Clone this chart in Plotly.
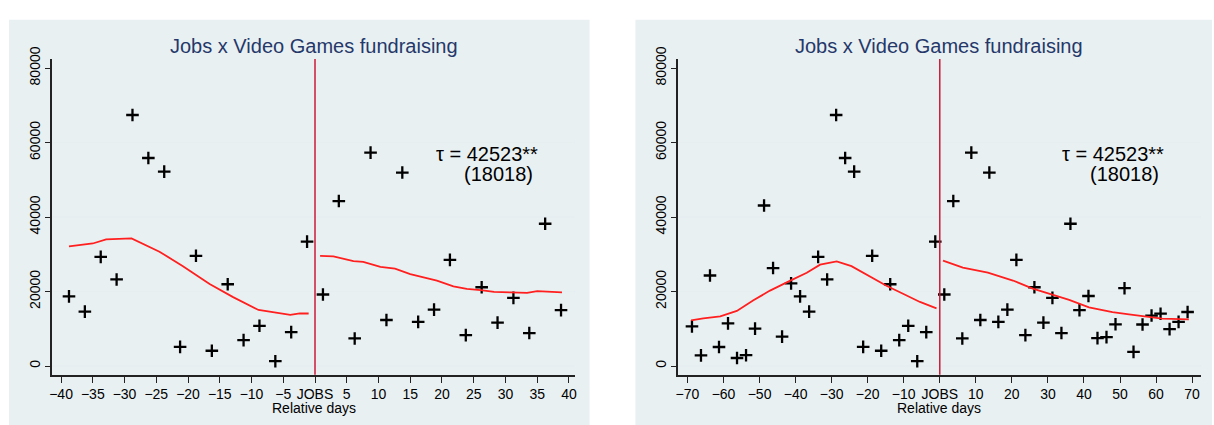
import plotly.graph_objects as go

# ---------------- data ----------------
days = [-68.75, -66.25, -63.75, -61.25, -58.75, -56.25, -53.75, -51.25, -48.75, -46.25,
        -43.75, -41.25, -38.75, -36.25, -33.75, -31.25, -28.75, -26.25, -23.75, -21.25,
        -18.75, -16.25, -13.75, -11.25, -8.75, -6.25, -3.75, -1.25,
        1.25, 3.75, 6.25, 8.75, 11.25, 13.75, 16.25, 18.75, 21.25, 23.75,
        26.25, 28.75, 31.25, 33.75, 36.25, 38.75, 41.25, 43.75, 46.25, 48.75,
        51.25, 53.75, 56.25, 58.75, 61.25, 63.75, 66.25, 68.75]
amount = [10650, 2850, 24300, 5100, 11450, 2150, 2900, 10050, 43100, 26300,
          7900, 22200, 18700, 14600, 29300, 23250, 67400, 55850, 52200, 5150,
          29600, 4100, 21950, 6950, 10800, 1300, 9100, 33400,
          19200, 44300, 7400, 57300, 12350, 51950, 11850, 15150, 28500, 8300,
          21150, 11650, 18300, 8850, 38200, 15000, 18800, 7500, 7750, 11200,
          20900, 3800, 11150, 13550, 14050, 9900, 11850, 14500]

# fitted (local) lines, window +-40 days
fit40_pre_x = [-38.75, -35.0, -32.9, -28.9, -24.5, -20.8, -16.6, -12.9, -8.9, -6.05, -3.9, -2.4, -1.0]
fit40_pre_y = [32100, 32900, 34000, 34250, 30700, 26800, 22000, 18500, 15050, 14200, 13750, 14150, 14100]
fit40_post_x = [0.8, 2.9, 6.05, 7.6, 10.3, 12.6, 15.0, 19.2, 21.8, 23.9, 26.1, 28.2, 30.8, 33.4, 35.0, 37.1, 38.9]
fit40_post_y = [29600, 29450, 28150, 27950, 26600, 26150, 24700, 22950, 21400, 20700, 20350, 19900,
                19750, 19650, 20100, 19900, 19750]
# fitted lines, window +-70 days
fit70_pre_x = [-69.0, -65.6, -60.9, -56.3, -51.7, -47.1, -41.6, -36.9, -33.2, -28.6, -24.5, -19.4,
               -14.8, -10.2, -5.5, -0.9]
fit70_pre_y = [12250, 12800, 13300, 14800, 17650, 20250, 22850, 25050, 27200, 28100, 26800, 24000,
               21550, 19400, 17200, 15500]
fit70_post_x = [0.9, 6.4, 13.35, 20.3, 25.8, 31.3, 35.9, 41.4, 47.9, 52.5, 57.1, 61.7, 69.1]
fit70_post_y = [28300, 26400, 25100, 22950, 20800, 19050, 17750, 15750, 14450, 13850, 13250, 12750, 12550]

title_text = "Jobs x Video Games fundraising"
xaxis_label = "Relative days"
tau_text = "τ = 42523**"
se_text = "(18018)"
cutoff = 0
cutoff_label = "JOBS"

x40_ticks = [-40, -35, -30, -25, -20, -15, -10, -5, 0, 5, 10, 15, 20, 25, 30, 35, 40]
x70_ticks = [-70, -60, -50, -40, -30, -20, -10, 0, 10, 20, 30, 40, 50, 60, 70]
y_ticks = [0, 20000, 40000, 60000, 80000]


def lab(v):
    if v == cutoff:
        return cutoff_label
    return ("\u2212" + str(-v)) if v < 0 else str(v)


# ---------------- figure ----------------
W, H = 1214, 425
FONT = "Liberation Sans, Arial, sans-serif"
PANEL_BG = "#e9f0f2"
GRID = "#e6eef0"
AX = "#222222"
FIT = "#ff1f1f"
VLINE = "#cc1a3a"

fig = go.Figure()

panels = [
    dict(xa="x", ya="y", win=40, ticks=x40_ticks, rng=[-41.41, 40.94],
         dom=[49.3 / W, 574.3 / W], bg=[6 / W, 589 / W],
         pre=(fit40_pre_x, fit40_pre_y), post=(fit40_post_x, fit40_post_y),
         tau_x=485.8, se_x=497.8),
    dict(xa="x2", ya="y2", win=70, ticks=x70_ticks, rng=[-72.65, 72.4],
         dom=[677.7 / W, 1202.7 / W], bg=[635 / W, 1.0],
         pre=(fit70_pre_x, fit70_pre_y), post=(fit70_post_x, fit70_post_y),
         tau_x=1114.7, se_x=1125.7),
]

ydom = [1 - 373.3 / H, 1 - 48.3 / H]
shapes = []
annotations = []
for i, p in enumerate(panels):
    sx = [d for d in days if abs(d) <= p["win"]]
    sy = [a for d, a in zip(days, amount) if abs(d) <= p["win"]]
    fig.add_trace(go.Scatter(
        x=sx, y=sy, mode="markers", xaxis=p["xa"], yaxis=p["ya"], showlegend=False,
        marker=dict(symbol="cross-thin", size=9, color="black",
                    line=dict(color="black", width=2.3))))
    for fx, fy in (p["pre"], p["post"]):
        fig.add_trace(go.Scatter(
            x=fx, y=fy, mode="lines", xaxis=p["xa"], yaxis=p["ya"], showlegend=False,
            line=dict(color=FIT, width=1.8)))

    suffix = "" if i == 0 else "2"
    fig.layout["xaxis" + suffix] = dict(
        domain=p["dom"], range=p["rng"], anchor="y" + suffix,
        tickmode="array", tickvals=p["ticks"], ticktext=[lab(v) for v in p["ticks"]],
        ticks="outside", ticklen=6, tickwidth=1.4, tickcolor=AX,
        showline=True, linecolor=AX, linewidth=1.5, showgrid=False, zeroline=False,
        tickfont=dict(family=FONT, size=14, color="black"), fixedrange=True)
    fig.layout["yaxis" + suffix] = dict(
        domain=ydom, range=[-2348, 82450], anchor="x" + suffix,
        tickmode="array", tickvals=y_ticks, ticktext=[str(v) for v in y_ticks],
        tickangle=-90, ticks="outside", ticklen=5, tickwidth=1.4, tickcolor=AX,
        showline=True, linecolor=AX, linewidth=1.5, showgrid=False, zeroline=False,
        tickfont=dict(family=FONT, size=14, color="black"), fixedrange=True)

    # panel background
    shapes.append(dict(type="rect", xref="paper", yref="paper",
                       x0=p["bg"][0], x1=p["bg"][1], y0=0.0, y1=1 - 8 / H,
                       fillcolor=PANEL_BG, line=dict(width=0), layer="below"))
    # grid lines (not at the top tick)
    for v in y_ticks[:-1]:
        shapes.append(dict(type="line", xref=p["xa"] + " domain", yref=p["ya"],
                           x0=0, x1=1, y0=v, y1=v,
                           line=dict(color=GRID, width=1.5), layer="below"))
    # cutoff line
    shapes.append(dict(type="line", xref=p["xa"], yref=p["ya"] + " domain",
                       x0=cutoff, x1=cutoff, y0=0, y1=1,
                       line=dict(color=VLINE, width=1.5), layer="above"))

    cx = (p["dom"][0] + p["dom"][1]) / 2
    annotations.append(dict(text=title_text, xref="paper", yref="paper", x=cx, y=1 - 35 / H,
                            xanchor="center", yanchor="middle", showarrow=False,
                            font=dict(family=FONT, size=20, color="#25386a")))
    annotations.append(dict(text=xaxis_label, xref="paper", yref="paper", x=cx, y=1 - 398.5 / H,
                            xanchor="center", yanchor="top", showarrow=False, borderpad=0,
                            font=dict(family=FONT, size=14, color="black")))
    annotations.append(dict(text=tau_text, xref="paper", yref="paper", x=p["tau_x"] / W,
                            y=1 - 146 / H, xanchor="center", yanchor="middle", showarrow=False,
                            font=dict(family=FONT, size=20, color="black")))
    annotations.append(dict(text=se_text, xref="paper", yref="paper", x=p["se_x"] / W,
                            y=1 - 167 / H, xanchor="center", yanchor="middle", showarrow=False,
                            font=dict(family=FONT, size=20, color="black")))

fig.update_layout(
    width=W, height=H, margin=dict(l=0, r=0, t=0, b=0),
    paper_bgcolor="white", plot_bgcolor="white",
    shapes=shapes, annotations=annotations, showlegend=False,
    font=dict(family=FONT),
)

fig.write_html("out.html", config={"displayModeBar": False})
